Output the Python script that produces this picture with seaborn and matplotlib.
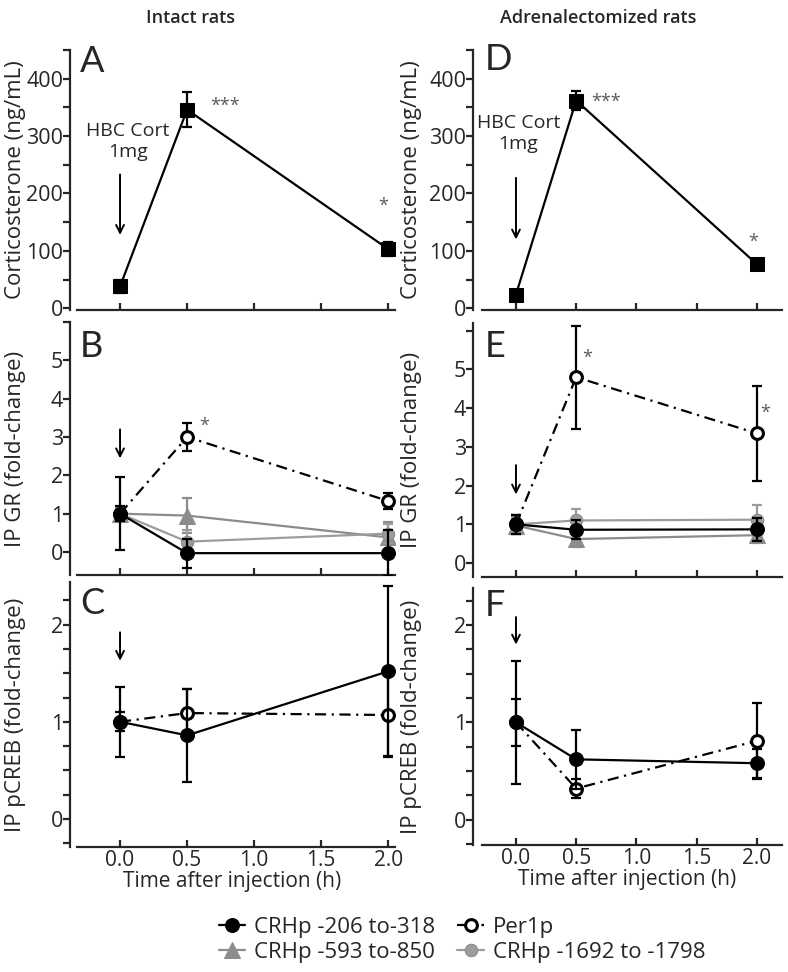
import matplotlib
matplotlib.use('Agg')
import matplotlib.pyplot as plt
import seaborn as sns
from matplotlib.ticker import MultipleLocator

# time points (h)
times = [0.0, 0.5, 2.0]

# corticosterone (ng/mL)
cort_intact = [38, 346, 103]
cort_intact_err = [12, 30, 12]
cort_adx = [24, 362, 77]
cort_adx_err = [6, 17, 8]

# IP GR fold-change
gr_intact_206 = [1.0, -0.03, -0.03]
gr_intact_206_err = [0.95, 0.38, 0.6]
gr_intact_per1 = [1.0, 3.0, 1.33]
gr_intact_per1_err = [0.2, 0.37, 0.2]
gr_intact_593 = [1.0, 0.95, 0.38]
gr_intact_593_err = [0.15, 0.45, 0.4]
gr_intact_1692 = [1.0, 0.27, 0.48]
gr_intact_1692_err = [0.1, 0.3, 0.25]

gr_adx_206 = [1.0, 0.86, 0.87]
gr_adx_206_err = [0.25, 0.25, 0.3]
gr_adx_per1 = [1.0, 4.8, 3.35]
gr_adx_per1_err = [0.25, 1.33, 1.23]
gr_adx_593 = [0.97, 0.62, 0.72]
gr_adx_593_err = [0.2, 0.2, 0.2]
gr_adx_1692 = [1.0, 1.1, 1.12]
gr_adx_1692_err = [0.2, 0.3, 0.38]

# IP pCREB fold-change
creb_intact_206 = [1.0, 0.86, 1.52]
creb_intact_206_err = [0.36, 0.48, 0.88]
creb_intact_per1 = [1.0, 1.09, 1.07]
creb_intact_per1_err = [0.1, 0.25, 0.42]
creb_adx_206 = [1.0, 0.62, 0.58]
creb_adx_206_err = [0.63, 0.3, 0.15]
creb_adx_per1 = [1.0, 0.32, 0.81]
creb_adx_per1_err = [0.24, 0.1, 0.39]

lab_206 = 'CRHp -206 to-318'
lab_per1 = 'Per1p'
lab_593 = 'CRHp -593 to-850'
lab_1692 = 'CRHp -1692 to -1798'

DASHDOT = (0, (5, 2.5, 1, 2.5))
styles = {
    lab_206: dict(color='black', marker='o', markersize=10, markerfacecolor='black',
                  markeredgecolor='black', linestyle='-', zorder=5),
    lab_per1: dict(color='black', marker='o', markersize=8.5, markerfacecolor='white',
                   markeredgecolor='black', markeredgewidth=2.2, linestyle=DASHDOT, zorder=4),
    lab_593: dict(color='#8c8c8c', marker='^', markersize=11, markerfacecolor='#8c8c8c',
                  markeredgecolor='#8c8c8c', linestyle='-', zorder=2),
    lab_1692: dict(color='#9c9c9c', marker='o', markersize=9, markerfacecolor='#9c9c9c',
                   markeredgecolor='#8a8a8a', linestyle='-', zorder=3),
}

sns.set_style('ticks')
plt.rcParams['font.family'] = ['Open Sans', 'DejaVu Sans']
plt.rcParams['axes.linewidth'] = 1.6

fig = plt.figure(figsize=(7.88, 9.72), dpi=100)
W, H = 788.0, 972.0


def px_axes(x0, x1, top, bottom):
    return fig.add_axes([x0 / W, 1 - bottom / H, (x1 - x0) / W, (bottom - top) / H])


axA = px_axes(70, 395, 50, 310)
axB = px_axes(70, 395, 322, 575)
axC = px_axes(70, 395, 582, 847)
axD = px_axes(473, 782, 50, 310)
axE = px_axes(473, 782, 323, 577)
axF = px_axes(473, 782, 588, 845)


def draw(ax, y, err, label, ecolor=None):
    st = dict(styles[label])
    z = st.pop('zorder')
    sns.lineplot(x=times, y=y, ax=ax, label=label, linewidth=1.6, zorder=z,
                 legend=False, **st)
    ax.errorbar(times, y, yerr=err, fmt='none', ecolor=ecolor or st['color'],
                elinewidth=1.6, capsize=3.5, capthick=1.6, zorder=z - 0.5)


# corticosterone panels
for ax, y, err in [(axA, cort_intact, cort_intact_err), (axD, cort_adx, cort_adx_err)]:
    sns.lineplot(x=times, y=y, ax=ax, color='black', marker='s', markersize=10,
                 markeredgecolor='black', linewidth=1.6, legend=False, zorder=5)
    ax.errorbar(times, y, yerr=err, fmt='none', ecolor='black', elinewidth=1.6,
                capsize=3.5, capthick=1.6, zorder=4)
    ax.set_ylim(-3, 450)
    ax.yaxis.set_major_locator(MultipleLocator(100))
    ax.yaxis.set_minor_locator(MultipleLocator(50))
    ax.set_ylabel('Corticosterone (ng/mL)', fontsize=16)

# GR panels
draw(axB, gr_intact_593, gr_intact_593_err, lab_593)
draw(axB, gr_intact_1692, gr_intact_1692_err, lab_1692)
draw(axB, gr_intact_per1, gr_intact_per1_err, lab_per1)
draw(axB, gr_intact_206, gr_intact_206_err, lab_206)
draw(axE, gr_adx_593, gr_adx_593_err, lab_593)
draw(axE, gr_adx_1692, gr_adx_1692_err, lab_1692)
draw(axE, gr_adx_per1, gr_adx_per1_err, lab_per1)
draw(axE, gr_adx_206, gr_adx_206_err, lab_206)
axB.set_ylim(-0.6, 6.0)
axE.set_ylim(-0.36, 6.2)
for ax in (axB, axE):
    ax.set_yticks(range(7))
    ax.set_yticklabels(['0', '1', '2', '3', '4', '5', ''])
    ax.set_ylabel('IP GR (fold-change)', fontsize=16)

# pCREB panels
draw(axC, creb_intact_per1, creb_intact_per1_err, lab_per1)
draw(axC, creb_intact_206, creb_intact_206_err, lab_206)
draw(axF, creb_adx_per1, creb_adx_per1_err, lab_per1)
draw(axF, creb_adx_206, creb_adx_206_err, lab_206)
axC.set_ylim(-0.29, 2.44)
axF.set_ylim(-0.26, 2.38)
for ax in (axC, axF):
    ax.yaxis.set_major_locator(MultipleLocator(1))
    ax.yaxis.set_minor_locator(MultipleLocator(0.25))
    ax.set_ylabel('IP pCREB (fold-change)', fontsize=16)
    ax.set_xlabel('Time after injection (h)', fontsize=15, labelpad=0)

# shared formatting
for ax, xl, spine_start, lab_x in [(axA, (-0.373, 2.05), -0.32, -0.135),
                                   (axB, (-0.373, 2.05), -0.32, -0.135),
                                   (axC, (-0.373, 2.05), -0.32, -0.135),
                                   (axD, (-0.357, 2.21), -0.28, -0.165),
                                   (axE, (-0.357, 2.21), -0.28, -0.165),
                                   (axF, (-0.357, 2.21), -0.28, -0.165)]:
    sns.despine(ax=ax)
    ax.set_xlim(*xl)
    ax.spines['bottom'].set_bounds(spine_start, xl[1])
    ax.set_xticks([0, 0.5, 1.0, 1.5, 2.0])
    if ax in (axC, axF):
        ax.set_xticklabels(['0.0', '0.5', '1.0', '1.5', '2.0'])
    else:
        ax.set_xticklabels([])
        ax.set_xlabel('')
    ax.tick_params(axis='x', direction='in', length=5, width=1.6, labelsize=15, pad=2)
    ax.tick_params(axis='y', which='both', direction='out', length=5, width=1.6,
                   labelsize=15.5, pad=0)
    ax.yaxis.set_label_coords(lab_x, 0.5)
    ax.patch.set_alpha(0)

# injection arrows
arrow = dict(arrowstyle='->', color='black', lw=1.4, mutation_scale=14)
axA.annotate('', xy=(0, 123), xytext=(0, 238), arrowprops=arrow)
axD.annotate('', xy=(0, 115), xytext=(0, 232), arrowprops=arrow)
axB.annotate('', xy=(0, 2.37), xytext=(0, 3.27), arrowprops=arrow)
axE.annotate('', xy=(0, 1.7), xytext=(0, 2.6), arrowprops=arrow)
axC.annotate('', xy=(0, 1.6), xytext=(0, 1.95), arrowprops=arrow)
axF.annotate('', xy=(0, 1.77), xytext=(0, 2.11), arrowprops=arrow)

axA.text(0.06, 290, 'HBC Cort\n1mg', ha='center', va='center', fontsize=14,
         linespacing=1.2)
axD.text(0.02, 304, 'HBC Cort\n1mg', ha='center', va='center', fontsize=14,
         linespacing=1.2)

# significance marks
star = dict(fontsize=13, color='0.35', ha='center', va='center')
axA.text(0.78, 352, '***', **star)
axA.text(1.96, 178, '*', **star)
axD.text(0.75, 360, '***', **star)
axD.text(1.97, 115, '*', **star)
axB.text(0.63, 3.3, '*', **star)
axE.text(0.59, 5.3, '*', **star)
axE.text(2.07, 3.88, '*', **star)

# panel letters
for letter, x, y in [('A', 80, 45), ('B', 80, 330), ('C', 80, 587),
                     ('D', 485, 43), ('E', 485, 330), ('F', 485, 589)]:
    fig.text(x / W, 1 - y / H, letter, ha='left', va='top', fontsize=26,
             family=['Lato', 'DejaVu Sans'])

fig.text(191 / W, 1 - 18 / H, 'Intact rats', ha='center', va='center', fontsize=13,
         fontweight='semibold')
fig.text(598 / W, 1 - 18 / H, 'Adrenalectomized rats', ha='center', va='center',
         fontsize=13, fontweight='semibold')

handles, labels = axB.get_legend_handles_labels()
hmap = dict(zip(labels, handles))
order = [lab_206, lab_593, lab_per1, lab_1692]
fig.legend([hmap[k] for k in order], order, ncol=2, loc='center',
           bbox_to_anchor=(462 / W, 1 - 940 / H), frameon=False, fontsize=16,
           handlelength=1.2, handletextpad=0.4, columnspacing=1.0, labelspacing=0.2)

fig.savefig('out.png', dpi=100)
